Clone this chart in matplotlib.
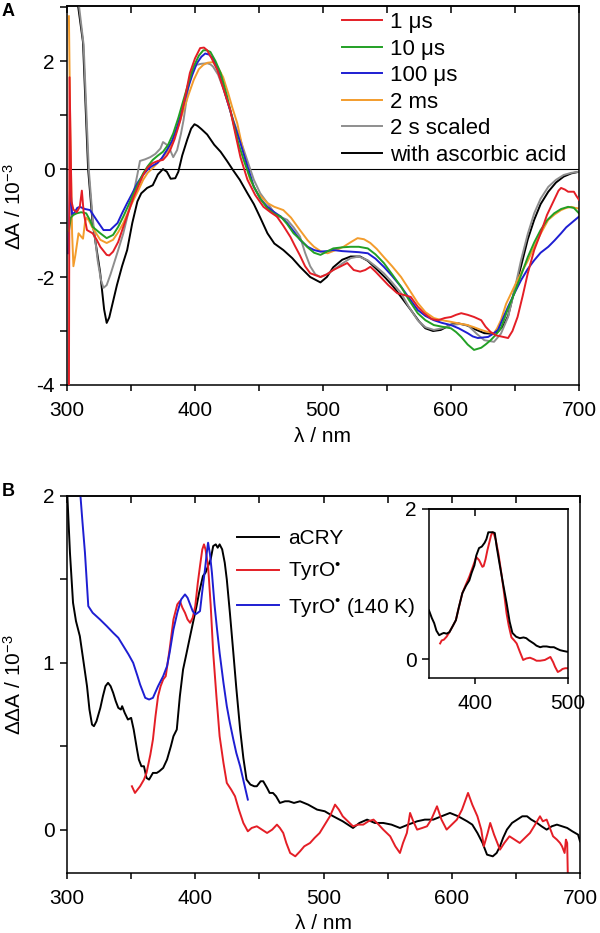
import matplotlib
matplotlib.use('Agg')
import matplotlib.pyplot as plt
from matplotlib.ticker import MultipleLocator, NullFormatter, FixedLocator

plt.rcParams['font.family'] = ['Liberation Sans', 'DejaVu Sans']
plt.rcParams['mathtext.fontset'] = 'custom'
plt.rcParams['mathtext.rm'] = 'Liberation Sans'
plt.rcParams['mathtext.it'] = 'Liberation Sans:italic'
plt.rcParams['mathtext.bf'] = 'Liberation Sans:bold'
plt.rcParams['axes.unicode_minus'] = False

# ---------------- Panel A data ----------------
a_labels = ['1 μs', '10 μs', '100 μs', '2 ms', '2 s scaled', 'with ascorbic acid']
a_colors = ['#e41e26', '#22a025', '#1e1ed2', '#f39c2c', '#8e8e8e', '#000000']

red_x = [301.5, 302, 303.5, 305, 307.6, 310, 311.6, 313, 315.6, 320, 323, 326, 331, 333, 336, 340, 344, 348, 352,
         356, 359.5, 363, 367, 371, 375, 378, 380.6, 384, 388.5, 392, 396, 400, 404, 407, 409.5, 413, 417.5, 422,
         427.6, 432, 435.5, 441, 447, 453.5, 459, 464, 469, 474.6, 478, 482, 486, 490, 498, 503, 508, 514, 519, 524,
         529, 533, 537, 541, 545, 551, 558, 563, 568.6, 574, 579, 585, 590, 595, 600, 604, 608, 613, 618, 623.6, 627,
         631, 635, 639, 644.6, 648, 652, 656, 660, 665, 670, 675, 680.6, 684, 686, 689, 691.5, 696, 698, 700]
red_y = [-4.3, 1.7, -0.6, -0.75, -0.8, -0.7, -0.4, -0.8, -1.13, -1.19, -1.3, -1.44, -1.59, -1.6, -1.53, -1.35, -1.07,
         -0.8, -0.52, -0.3, -0.11, 0.03, 0.11, 0.15, 0.17, 0.25, 0.35, 0.55, 0.9, 1.3, 1.78, 2.05, 2.24, 2.25, 2.2,
         2.05, 1.83, 1.5, 1.09, 0.6, 0.22, -0.2, -0.48, -0.7, -0.8, -0.88, -1.05, -1.26, -1.42, -1.6, -1.8, -1.93,
         -2.0, -1.95, -1.87, -1.8, -1.74, -1.87, -1.9, -1.87, -1.81, -1.9, -2.0, -2.15, -2.3, -2.33, -2.37, -2.55,
         -2.67, -2.78, -2.8, -2.76, -2.74, -2.7, -2.67, -2.7, -2.74, -2.8, -2.92, -3.02, -3.08, -3.1, -3.13, -3.0,
         -2.74, -2.35, -1.93, -1.5, -1.19, -0.85, -0.57, -0.4, -0.35, -0.38, -0.42, -0.42, -0.5, -0.57]

green_x = [301.5, 303, 305, 307.6, 311, 315, 318, 320, 326, 331, 336, 340, 344, 348, 352, 356, 359.5, 363, 367, 371,
           375, 379, 383, 387, 391, 395, 399, 403, 406.5, 409, 412, 416, 420, 425, 430, 434, 438, 442, 446, 451,
           456.6, 462, 467, 472, 477, 482, 488, 493, 498, 503, 508, 515, 521.6, 528, 535, 541, 547.5, 554, 561, 567,
           574, 580, 586.6, 593, 600, 604, 608, 613, 618, 623.6, 627, 631, 635, 639, 644, 649.5, 655, 660, 665, 670,
           675, 680.6, 686, 691.5, 696, 700]
green_y = [-1.15, -0.9, -0.85, -0.82, -0.8, -0.82, -0.95, -1.07, -1.19, -1.28, -1.22, -1.07, -0.88, -0.67, -0.45,
           -0.25, -0.08, 0.05, 0.17, 0.25, 0.32, 0.45, 0.66, 0.95, 1.28, 1.6, 1.9, 2.1, 2.2, 2.2, 2.17, 2.0, 1.78,
           1.35, 0.85, 0.47, 0.17, -0.1, -0.33, -0.55, -0.73, -0.83, -0.88, -1.02, -1.19, -1.3, -1.45, -1.55, -1.59,
           -1.53, -1.47, -1.45, -1.44, -1.44, -1.47, -1.58, -1.74, -1.95, -2.18, -2.42, -2.67, -2.8, -2.89, -2.92,
           -2.95, -3.02, -3.11, -3.25, -3.35, -3.31, -3.25, -3.17, -3.07, -2.95, -2.62, -2.3, -1.95, -1.63, -1.36,
           -1.13, -0.95, -0.82, -0.74, -0.7, -0.72, -0.82]

blue_x = [301, 302.5, 304, 306, 308, 310, 314, 318, 323, 328.5, 333.7, 339.5, 343, 347, 351, 355, 359, 362.6, 366,
          370.5, 374, 378, 382, 386, 390, 394, 398, 401.5, 405, 408, 411, 414, 418, 421, 425, 430, 435.5, 441, 446,
          451, 456.6, 462, 467, 472, 477, 482, 488, 493, 498, 503, 508, 515, 521.6, 528, 535, 541, 547.5, 554, 561,
          567, 574, 580, 586.6, 593, 600, 606, 613, 617, 621, 625, 629, 633, 636.7, 640, 644.6, 650, 654.7, 660,
          665, 670, 676, 681, 686, 690, 694, 700]
blue_y = [-1.56, -0.25, -0.85, -0.8, -0.72, -0.7, -0.74, -0.76, -0.94, -1.13, -1.13, -1.0, -0.82, -0.63, -0.45,
          -0.26, -0.12, -0.02, 0.05, 0.11, 0.2, 0.35, 0.52, 0.78, 1.1, 1.46, 1.75, 1.96, 2.08, 2.14, 2.12, 2.05,
          1.85, 1.6, 1.28, 0.88, 0.48, 0.05, -0.33, -0.55, -0.7, -0.8, -0.88, -1.0, -1.15, -1.31, -1.44, -1.5, -1.53,
          -1.52, -1.5, -1.52, -1.53, -1.54, -1.56, -1.66, -1.81, -1.98, -2.18, -2.38, -2.61, -2.72, -2.8, -2.85,
          -2.89, -2.95, -3.04, -3.1, -3.13, -3.12, -3.11, -3.05, -2.98, -2.8, -2.55, -2.28, -2.06, -1.85, -1.69,
          -1.55, -1.44, -1.32, -1.19, -1.08, -1.0, -0.88]

orange_x = [301.5, 302.5, 304, 305, 306.5, 309, 311, 312.5, 314, 315, 317, 319.5, 323, 326, 331, 336, 340, 344, 348,
            352, 356, 359.5, 363, 367, 371, 375, 379, 383, 387, 391, 395, 399, 403, 406.5, 410, 414, 418, 422, 426,
            429, 433, 438, 443, 449, 456.6, 462, 469, 475, 482, 488, 493, 498, 503.6, 510, 516, 522, 527, 532, 537,
            542, 547.5, 554, 561, 567, 574, 580, 586.6, 593, 600, 606, 613, 618, 623.6, 629, 633.6, 636, 639, 643,
            647, 651, 654.7, 660, 665, 670, 676, 681, 686, 690, 694, 697, 700]
orange_y = [2.83, 0.8, -1.2, -1.8, -1.6, -1.19, -1.25, -1.29, -1.0, -0.9, -0.95, -1.07, -1.2, -1.31, -1.37, -1.31,
            -1.17, -1.0, -0.78, -0.57, -0.38, -0.2, -0.07, 0.02, 0.12, 0.22, 0.35, 0.54, 0.8, 1.09, 1.38, 1.65, 1.85,
            1.93, 1.97, 1.98, 1.88, 1.7, 1.4, 1.15, 0.85, 0.3, -0.2, -0.45, -0.63, -0.7, -0.76, -0.9, -1.13, -1.32,
            -1.44, -1.52, -1.56, -1.5, -1.44, -1.35, -1.28, -1.3, -1.37, -1.48, -1.63, -1.8, -2.0, -2.22, -2.48,
            -2.65, -2.76, -2.8, -2.83, -2.86, -2.89, -2.93, -2.98, -3.02, -3.04, -2.95, -2.8, -2.5, -2.3, -2.1, -1.93,
            -1.7, -1.44, -1.2, -0.94, -0.84, -0.76, -0.72, -0.7, -0.72, -0.73]

gray_x = [309, 313, 317, 320, 324, 326.5, 328.5, 331, 334, 336, 340, 344, 348, 352, 355, 357, 361, 365, 369, 373, 375,
          378, 380.6, 383, 386, 389, 391, 393.5, 396, 398.5, 401, 405, 409.5, 412, 414, 418, 422, 425, 430, 435.5,
          441, 446, 451, 456.6, 464, 468, 472, 477, 482, 486, 490, 494, 498, 503, 508, 515, 521.6, 528, 535, 541,
          547.5, 554, 561, 567, 574, 580, 586.6, 593, 600, 607, 613, 620, 626, 633.6, 639, 644.6, 650, 654.7, 660,
          665, 670, 676, 682, 688, 694, 700]
gray_y = [3.1, 2.3, 0.0, -0.9, -1.7, -2.05, -2.2, -2.15, -1.95, -1.8, -1.5, -1.19, -0.8, -0.45, -0.1, 0.15, 0.18,
          0.22, 0.28, 0.38, 0.5, 0.45, 0.35, 0.22, 0.35, 0.65, 0.9, 1.3, 1.7, 1.85, 1.93, 1.95, 1.96, 1.94, 1.9,
          1.75, 1.5, 1.28, 0.9, 0.54, 0.15, -0.2, -0.45, -0.63, -0.88, -0.9, -0.94, -1.08, -1.25, -1.55, -1.8,
          -1.95, -2.0, -1.95, -1.87, -1.75, -1.65, -1.62, -1.69, -1.8, -1.93, -2.1, -2.3, -2.55, -2.8, -2.93, -2.98,
          -2.95, -2.89, -2.87, -2.89, -3.05, -3.17, -3.2, -3.05, -2.74, -2.2, -1.69, -1.2, -0.82, -0.55, -0.33,
          -0.2, -0.11, -0.07, -0.05]

black_x = [308.5, 312.5, 316.5, 320, 325.8, 329, 331, 333, 336, 339, 343, 347, 351, 355, 358, 362.6, 367, 371, 375,
           378, 381, 384.6, 387, 390, 394, 397, 399.6, 402, 405, 409.5, 415, 420, 425, 430, 435, 441, 446, 451, 456.6,
           462, 469, 476, 482, 490, 498, 503, 508, 515, 521.6, 529, 535, 542.6, 549, 555, 562, 568.6, 575, 580, 586,
           592, 600, 606, 613, 620, 626, 632, 636.7, 641, 644.6, 649, 654.7, 660, 665, 670, 676, 682, 688, 694, 700]
black_y = [3.05, 2.35, 0.0, -1.0, -1.9, -2.6, -2.85, -2.75, -2.45, -2.15, -1.8, -1.5, -1.0, -0.6, -0.45, -0.35,
           -0.3, -0.1, 0.0, -0.05, -0.18, -0.17, -0.05, 0.25, 0.55, 0.75, 0.83, 0.8, 0.74, 0.64, 0.45, 0.32, 0.15,
           -0.03, -0.2, -0.45, -0.65, -0.9, -1.19, -1.38, -1.5, -1.65, -1.81, -2.0, -2.1, -2.0, -1.82, -1.68, -1.62,
           -1.62, -1.7, -1.87, -2.02, -2.18, -2.4, -2.61, -2.82, -2.95, -3.0, -2.98, -2.88, -2.86, -2.9, -2.98,
           -3.04, -3.05, -3.01, -2.9, -2.72, -2.3, -1.8, -1.3, -0.94, -0.65, -0.42, -0.25, -0.14, -0.08, -0.05]

a_series = [(red_x, red_y), (green_x, green_y), (blue_x, blue_y),
            (orange_x, orange_y), (gray_x, gray_y), (black_x, black_y)]
a_zorder = [2.6, 2.5, 2.4, 2.3, 2.2, 2.1]

# ---------------- Panel B data ----------------
b_labels = ['aCRY', 'TyrO$^{•}$', 'TyrO$^{•}$ (140 K)']
b_colors = ['#000000', '#e41e26', '#1e1ed2']

acry_x = [300, 302.3, 304.7, 307, 310, 313, 315.6, 317.5, 319.5, 321, 323, 326, 328, 330, 332, 334, 336, 338, 340,
          342, 343, 345, 347.5, 350, 352, 354.6, 356, 358, 360, 362, 364, 367, 370, 372, 375, 378, 381, 383, 385.6,
          388, 390.5, 393, 396, 398.5, 401, 403, 406, 408, 410, 412, 414, 416, 417.5, 419, 421, 423, 424.6, 427,
          429.7, 432, 435, 437.5, 440, 443, 446, 448, 451, 453, 456, 458, 460.6, 463, 466, 470, 473, 477, 481.7, 488,
          495, 501, 507.6, 515, 523, 528, 534, 540, 546.6, 553, 559.6, 566, 573, 579, 585.6, 592, 598.6, 605, 612,
          616, 620, 624, 627.5, 632, 635, 637.6, 640, 643, 647, 651, 655, 658.7, 662, 666.5, 670, 674, 678, 682, 686,
          690, 694, 698.5, 700]
acry_y = [2.05, 1.66, 1.36, 1.25, 1.16, 1.0, 0.86, 0.72, 0.63, 0.62, 0.65, 0.73, 0.8, 0.86, 0.88, 0.86, 0.82, 0.77,
          0.73, 0.72, 0.74, 0.7, 0.66, 0.67, 0.6, 0.48, 0.42, 0.38, 0.38, 0.31, 0.3, 0.34, 0.34, 0.35, 0.37, 0.42,
          0.5, 0.56, 0.6, 0.8, 0.96, 1.05, 1.16, 1.25, 1.34, 1.42, 1.52, 1.54, 1.58, 1.62, 1.7, 1.71, 1.69, 1.71,
          1.68, 1.6, 1.5, 1.3, 1.06, 0.85, 0.6, 0.43, 0.3, 0.27, 0.26, 0.26, 0.29, 0.29, 0.25, 0.22, 0.22, 0.2,
          0.16, 0.17, 0.17, 0.16, 0.17, 0.15, 0.12, 0.11, 0.08, 0.05, 0.01, 0.04, 0.06, 0.04, 0.04, 0.03, 0.01,
          0.03, 0.05, 0.06, 0.06, 0.08, 0.1, 0.08, 0.05, 0.03, -0.02, -0.08, -0.15, -0.16, -0.14, -0.1, -0.05, 0.0,
          0.04, 0.06, 0.08, 0.08, 0.06, 0.04, 0.02, 0.0, 0.02, 0.03, 0.02, 0.01, -0.01, -0.03, -0.07]

tyro_x = [350.6, 353, 357, 360, 362, 365, 367, 369, 371, 373, 375, 377, 380, 383, 386, 388, 390, 392, 394, 396, 398,
          400, 402, 403.7, 405.5, 406.8, 408, 410, 412, 414, 416.5, 419, 422, 424.6, 428, 431, 434, 437.5, 441, 444,
          448, 452, 456, 460, 463.7, 466, 468.6, 471, 474, 478, 481.7, 485, 489.5, 493, 497, 501, 505, 509, 512, 515,
          519, 523, 527, 531, 535, 539, 543, 546.6, 552, 556, 559.6, 562, 565, 567.5, 570, 573, 577, 580.7, 584,
          588.5, 592, 596, 600, 604, 608, 612.7, 616, 620, 623, 625, 628, 630, 633, 637.6, 641, 645, 649, 653, 657,
          661, 665, 668.8, 671, 674, 677, 679, 682, 684.4, 686, 688, 689, 690, 690.5]
tyro_y = [0.26, 0.22, 0.26, 0.3, 0.34, 0.45, 0.54, 0.68, 0.8, 0.86, 0.9, 0.92, 1.08, 1.26, 1.35, 1.37, 1.33, 1.3,
          1.26, 1.24, 1.27, 1.34, 1.48, 1.58, 1.68, 1.71, 1.68, 1.58, 1.35, 1.06, 0.8, 0.56, 0.4, 0.28, 0.24, 0.2,
          0.12, 0.04, -0.01, 0.01, 0.02, 0.0, -0.02, 0.0, 0.03, 0.01, -0.02, -0.08, -0.14, -0.16, -0.13, -0.1, -0.08,
          -0.05, -0.02, 0.03, 0.08, 0.15, 0.12, 0.08, 0.05, 0.02, 0.03, 0.03, 0.05, 0.06, 0.03, 0.0, -0.04, -0.1,
          -0.14, -0.08, -0.02, 0.1, 0.05, 0.0, 0.01, 0.02, 0.06, 0.14, 0.06, 0.0, 0.03, 0.06, 0.12, 0.22, 0.15,
          0.08, 0.0, -0.1, -0.02, 0.04, -0.03, -0.12, -0.08, -0.04, -0.06, -0.08, -0.05, -0.02, 0.03, 0.08, 0.05,
          0.06, 0.0, -0.04, -0.06, -0.08, -0.1, -0.14, -0.06, -0.08, -0.27]

tyro140_x = [310, 312, 314, 316.6, 320, 325.7, 331, 336, 340, 344, 348, 351.6, 355, 357, 361, 364, 367, 371, 375, 378,
             380, 383, 386, 389, 392, 394, 396, 398, 400, 402, 403.7, 405.5, 407.6, 409, 410, 411.5, 413, 415, 417,
             419, 422, 424.6, 427, 429.7, 432, 435, 438, 441]
tyro140_y = [2.05, 1.85, 1.66, 1.34, 1.3, 1.26, 1.22, 1.18, 1.15, 1.1, 1.05, 1.0, 0.92, 0.87, 0.79, 0.78, 0.79, 0.86,
             0.92, 0.98, 1.06, 1.2, 1.3, 1.38, 1.41, 1.39, 1.35, 1.31, 1.29, 1.3, 1.31, 1.43, 1.56, 1.66, 1.72,
             1.65, 1.54, 1.35, 1.2, 1.06, 0.88, 0.74, 0.64, 0.54, 0.46, 0.38, 0.28, 0.18]

b_series = [(acry_x, acry_y), (tyro_x, tyro_y), (tyro140_x, tyro140_y)]

# ---------------- Inset data ----------------
ins_black_x = [350, 353, 355.6, 358, 361, 364, 366, 369, 372, 376, 379, 382, 386, 390, 393.5, 396, 399, 401, 404, 407,
               410, 412, 414, 417, 419, 421, 423, 426, 430, 433.7, 437, 440, 444, 448, 452, 455, 458, 463, 466, 470,
               473, 477, 481, 484.8, 488, 491.6, 495, 499, 500]
ins_black_y = [0.65, 0.55, 0.48, 0.38, 0.32, 0.34, 0.35, 0.34, 0.36, 0.45, 0.52, 0.68, 0.88, 0.98, 1.05, 1.15, 1.25,
               1.38, 1.48, 1.5, 1.55, 1.6, 1.69, 1.69, 1.69, 1.68, 1.5, 1.28, 1.0, 0.75, 0.5, 0.35, 0.3, 0.28, 0.29,
               0.28, 0.25, 0.21, 0.18, 0.16, 0.17, 0.17, 0.16, 0.16, 0.14, 0.12, 0.11, 0.1, 0.1]
ins_red_x = [362, 363.7, 366, 369, 372, 376, 379, 382, 386, 390, 393.5, 397, 401, 404, 407.6, 409, 411, 413, 415, 417,
             418.5, 420, 422, 425, 428, 431, 433.7, 436, 439, 442, 444.6, 448, 451.6, 455, 459, 463, 466, 470, 475,
             478, 481, 484, 486, 489, 492, 494, 497, 499, 500]
ins_red_y = [0.21, 0.25, 0.26, 0.3, 0.36, 0.45, 0.52, 0.68, 0.88, 1.0, 1.1, 1.22, 1.36, 1.32, 1.23, 1.24, 1.33, 1.45,
             1.55, 1.65, 1.69, 1.67, 1.59, 1.4, 1.15, 0.88, 0.61, 0.45, 0.29, 0.25, 0.21, 0.1, -0.01, 0.01, 0.02,
             0.0, -0.02, -0.02, -0.01, 0.01, 0.03, -0.04, -0.1, -0.17, -0.15, -0.13, -0.12, -0.12, -0.12]
ins_colors = ['#000000', '#e41e26']

# ---------------- Figure ----------------
W, H = 600, 933
fig = plt.figure(figsize=(W / 100, H / 100), dpi=100)


def rect(l, t, r, b):
    return [l / W, 1 - b / H, (r - l) / W, (b - t) / H]


LW_SP = 1.1
FS = 15


def style(ax, xmaj, xmin, ymaj, ymin, top_major=None, top_minor=None):
    for s in ax.spines.values():
        s.set_linewidth(LW_SP)
    ax.xaxis.set_major_locator(MultipleLocator(xmaj))
    if xmin:
        ax.xaxis.set_minor_locator(MultipleLocator(xmin))
    ax.yaxis.set_major_locator(MultipleLocator(ymaj))
    if ymin:
        ax.yaxis.set_minor_locator(MultipleLocator(ymin))
    ax.tick_params(axis='x', which='both', direction='out', top=False, bottom=True,
                   length=4.0, width=LW_SP, pad=7.5, labelsize=FS)
    ax.tick_params(axis='y', which='both', direction='out', right=False, left=True,
                   length=5.0, width=LW_SP, pad=4, labelsize=FS)
    sec = ax.secondary_xaxis('top')
    sec.xaxis.set_major_locator(FixedLocator(top_major) if top_major is not None else MultipleLocator(xmaj))
    if top_minor is not None:
        sec.xaxis.set_minor_locator(MultipleLocator(top_minor))
    sec.xaxis.set_major_formatter(NullFormatter())
    sec.xaxis.set_minor_formatter(NullFormatter())
    sec.tick_params(which='both', direction='in', length=5.0, width=LW_SP)
    sec.spines['top'].set_linewidth(LW_SP)
    return sec


# Panel A
axA = fig.add_axes(rect(67, 6, 579, 385))
axA.axhline(0, color='black', lw=0.8, zorder=1)
for (x, y), c, lab, z in zip(a_series, a_colors, a_labels, a_zorder):
    axA.plot(x, y, color=c, lw=1.4, label=lab, zorder=z)
axA.set_xlim(300, 700)
axA.set_ylim(-4, 3.02)
style(axA, 100, 50, 2, 1, top_minor=50)
axA.set_xlabel('λ / nm', fontsize=FS)
axA.xaxis.set_label_coords(0.5, -0.11)
axA.set_ylabel('ΔA / 10$^{-3}$', fontsize=FS)
axA.yaxis.set_label_coords(-0.082, 0.47)
axA.legend(loc='upper left', bbox_to_anchor=(342 / W, 1 - 12 / H), bbox_transform=fig.transFigure,
           frameon=False, borderpad=0, borderaxespad=0, fontsize=16, handlelength=1.8,
           handletextpad=0.35, labelspacing=0.25)

# Panel B
axB = fig.add_axes(rect(67, 496, 580, 873))
for (x, y), c, lab in zip(b_series, b_colors, b_labels):
    axB.plot(x, y, color=c, lw=1.4, label=lab)
axB.set_xlim(300, 700)
axB.set_ylim(-0.26, 2.0)
style(axB, 100, 50, 1, 0.5, top_minor=50)
axB.set_xlabel('λ / nm', fontsize=FS)
axB.xaxis.set_label_coords(0.5, -0.108)
axB.set_ylabel('ΔΔA / 10$^{-3}$', fontsize=FS)
axB.yaxis.set_label_coords(-0.082, 0.5)
axB.legend(loc='upper left', bbox_to_anchor=(237 / W, 1 - 529 / H), bbox_transform=fig.transFigure,
           frameon=False, borderpad=0, borderaxespad=0, fontsize=FS, handlelength=2.0,
           handletextpad=0.45, labelspacing=0.6)

# Inset
axI = fig.add_axes(rect(429, 509, 568, 678))
axI.plot(ins_black_x, ins_black_y, color=ins_colors[0], lw=1.4, zorder=3)
axI.plot(ins_red_x, ins_red_y, color=ins_colors[1], lw=1.4, zorder=2)
axI.set_xlim(350, 500)
axI.set_ylim(-0.25, 2.0)
style(axI, 100, None, 2, None, top_major=[400])

fig.text(2 / W, 1 - 11 / H, 'A', fontsize=13, fontweight='bold', va='center', ha='left')
fig.text(2 / W, 1 - 492 / H, 'B', fontsize=13, fontweight='bold', va='center', ha='left')

fig.savefig('out.png', dpi=100)
